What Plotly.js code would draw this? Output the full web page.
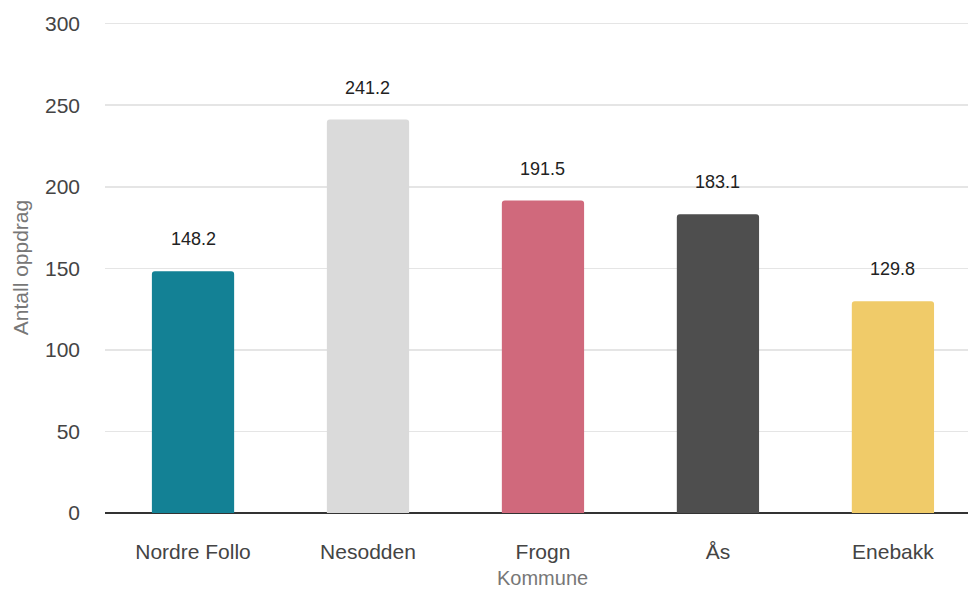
<!DOCTYPE html>
<html>
<head>
<meta charset="utf-8">
<script src="https://cdn.plot.ly/plotly-3.0.1.min.js"></script>
<style>html,body{margin:0;padding:0;background:#fff;}#chart{width:968px;height:590px;}</style>
</head>
<body>
<div id="chart"></div>
<script>
const categories = ["Nordre Follo", "Nesodden", "Frogn", "Ås", "Enebakk"];
const values = [148.2, 241.2, 191.5, 183.1, 129.8];
const barColors = ["#138195", "#dadada", "#d0697c", "#4e4e4e", "#f0cb69"];
const yTicks = [0, 50, 100, 150, 200, 250, 300];

const FONT = "Liberation Sans, Arial, sans-serif";

const trace = {
  type: "bar",
  x: categories,
  y: values,
  marker: { color: barColors, line: { width: 0 } },
  hoverinfo: "x+y"
};

const labels = categories.map((c, i) => ({
  x: c, y: values[i], xref: "x", yref: "y",
  text: values[i].toFixed(1), showarrow: false, yanchor: "middle",
  yshift: 32, font: { family: FONT, size: 18, color: "#222" }
}));
labels.push({
  x: 2, y: 0, xref: "x", yref: "paper", yanchor: "middle", yshift: -65,
  text: "Kommune", showarrow: false,
  font: { family: FONT, size: 20, color: "#777" }
});

const layout = {
  width: 968, height: 590,
  margin: { l: 105, r: 0, t: 22, b: 77 },
  paper_bgcolor: "#fff", plot_bgcolor: "#fff",
  bargap: 0.53,
  barcornerradius: 3,
  showlegend: false,
  font: { family: FONT, size: 21, color: "#444" },
  xaxis: {
    type: "category",
    range: [-0.503, 4.429],
    showgrid: false, zeroline: false,
    showline: false,
    ticks: "", ticklabelstandoff: 24,
    tickfont: { family: FONT, size: 21, color: "#444" }
  },
  yaxis: {
    range: [0, 301],
    tickvals: yTicks,
    ticktext: yTicks.map(String),
    showgrid: true, gridcolor: "#e5e5e5", gridwidth: 1.5,
    zeroline: true, zerolinecolor: "#333", zerolinewidth: 1.5,
    ticks: "", ticklabelstandoff: 24,
    tickfont: { family: FONT, size: 21, color: "#444" },
    title: { text: "Antall oppdrag", standoff: 10, font: { family: FONT, size: 21, color: "#777" } }
  },
  annotations: labels
};

Plotly.newPlot("chart", [trace], layout, { displayModeBar: false, staticPlot: true });
</script>
</body>
</html>
